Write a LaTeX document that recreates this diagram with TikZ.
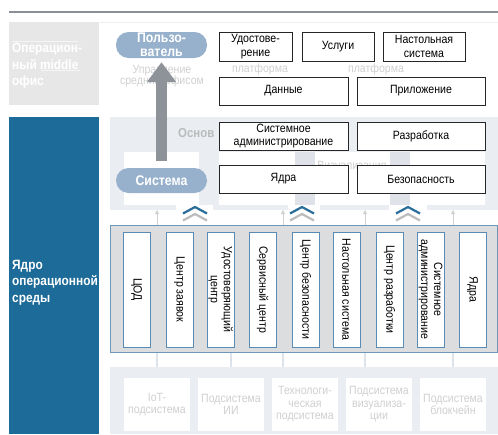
\documentclass[tikz,border=0pt]{standalone}
\usepackage{fontspec}
\setmainfont{Liberation Sans}[FakeStretch=0.88]
\usetikzlibrary{arrows.meta}
\definecolor{pillc}{HTML}{97B1CC}
\definecolor{blueL}{HTML}{1D6B98}
\definecolor{grayP}{HTML}{E7E7E7}
\definecolor{regL}{HTML}{EAEEF3}
\definecolor{regD}{HTML}{DFE3E9}
\definecolor{bandF}{HTML}{DCDDDF}
\definecolor{bandB}{HTML}{6E97BC}
\definecolor{boxB}{HTML}{5A8BB6}
\definecolor{arrowG}{HTML}{8E9299}
\definecolor{chevB}{HTML}{2A6E9B}
\definecolor{chevG}{HTML}{BCBCBC}
\definecolor{ghost}{HTML}{D0D0D0}
\definecolor{sepc}{HTML}{DDE3EA}
\definecolor{topline}{HTML}{8B8F95}
\newcommand\fsz[2]{\fontsize{#1}{#2}\selectfont}
\begin{document}
\begin{tikzpicture}[x=1pt,y=-1pt,
  bx/.style={draw=black!85, line width=0.9pt, fill=white, inner sep=0pt, align=center, font=\fsz{12}{13.5}},
  pill/.style={fill=pillc, rounded corners=12.5pt, inner sep=0pt, align=center, text=white, font=\bfseries\fsz{14}{14.5}},
  vbox/.style={draw=boxB, line width=1pt, fill=white, rotate=-90, minimum width=115pt, minimum height=27pt, inner sep=0pt, align=center, font=\fsz{12}{13}},
  ghostbox/.style={fill=white, minimum width=66pt, minimum height=53pt, inner sep=0pt, align=center, text=ghost, font=\fsz{12}{12.5}},
  ghosttxt/.style={inner sep=0pt, align=center, text=ghost, font=\fsz{12}{11.5}},
  chevblue/.style={draw=chevB, line width=2.2pt},
  chevgray/.style={draw=chevG, line width=2.2pt},
  smallarr/.style={draw=ghost, line width=0.8pt, -{Triangle[width=4pt,length=4pt]}},
  sidetxt/.style={inner sep=0pt, align=left, anchor=north west, text=white, font=\bfseries\fsz{13.5}{16.5}},
  bigarrow/.style={draw=arrowG, line width=10.5pt, -{Triangle[width=28pt,length=20pt]}},
  backrect/.style={fill=white, inner sep=0pt}
]
\useasboundingbox (0,0) rectangle (498,434);

% top rule
\draw[topline, line width=2pt] (9,12) -- (498,12);

% upper left panel
\fill[grayP] (9,22) rectangle (99,105);
\draw[white!60!grayP, line width=1pt] (12,41) -- (78,41);
\node[sidetxt] (midoffice) at (12,43) {Операцион-\\ный middle\\офис};
\draw[white!60!grayP, line width=0.8pt] (41,70.5) -- (80,70.5);
\draw[regD!60!white, line width=0.8pt] (100,22) -- (498,22);

% ghost text upper region
\node[ghosttxt] (ghostmid) at (162,76) {Управление\\средним офисом};
\node[ghosttxt] (ghostpl1) at (260,69) {платформа};
\node[ghosttxt] (ghostpl2) at (376,69) {платформа};

% upper boxes
\node[bx, minimum width=73pt, minimum height=29pt] (udost) at (255.5,46.5) {Удостове-\\рение};
\node[bx, minimum width=72pt, minimum height=29pt] (uslugi) at (338,46.5) {Услуги};
\node[bx, minimum width=82pt, minimum height=29pt] (nastol) at (424,46.5) {Настольная\\система};
\node[bx, minimum width=129pt, minimum height=28pt] (dannye) at (283.5,91) {Данные};
\node[bx, minimum width=128pt, minimum height=28pt] (prilozh) at (421,91) {Приложение};

% left blue panel
\fill[blueL] (9,117) rectangle (99,434);
\node[sidetxt] (core) at (12,260) {Ядро\\операционной\\среды};

% middle region
\fill[regL] (110,117) rectangle (498,210);
\fill[regD] (295,152) rectangle (315,207);
\fill[regD] (390,152) rectangle (410,207);
\fill[white] (124,152) rectangle (199,205);
\fill[white] (219,152) rectangle (295,205);
\fill[white] (315,152) rectangle (390,205);
\fill[white] (410,152) rectangle (485,205);
\node[inner sep=0pt, anchor=west, text=ghost!90!black, font=\bfseries\fsz{13}{13}] (osnov) at (178,133.5) {Основ};
\node[ghosttxt] (ghostviz) at (352,167) {Визуализация};

\node[bx, minimum width=129pt, minimum height=28pt] (sysadm) at (283.5,136) {Системное\\администрирование};
\node[bx, minimum width=128pt, minimum height=28pt] (razrab) at (421,136) {Разработка};
\node[bx, minimum width=129pt, minimum height=28pt] (yadra) at (283.5,179) {Ядра};
\node[bx, minimum width=128pt, minimum height=28pt] (bezop) at (421,179) {Безопасность};

% pills and arrow
\node[pill, minimum width=91pt, minimum height=26pt] (polz) at (161.5,45) {Пользо-\\ватель};
\node[pill, minimum width=91pt, minimum height=25pt] (sistema) at (161.5,180.5) {Система};
\draw[bigarrow] ([yshift=7pt]sistema.north) -- ([yshift=-4pt]polz.south);

% chevrons
\foreach \c/\l/\r [count=\i] in {195/176/213, 302/288/320, 408/389/427}{
  \fill[white] (\l,205) rectangle (\r,223);
  \draw[chevblue] (\c-12,213.5) -- (\c,207) -- (\c+12,213.5);
  \draw[chevgray] (\c-12,220.5) -- (\c,214) -- (\c+12,220.5);
}
% small arrows
\foreach \x in {157,283,365,453}{
  \coordinate (sa\x) at (\x,225);
  \coordinate (sb\x) at (\x,210);
  \draw[smallarr] (sa\x) -- (sb\x);
}

% core band
\draw[fill=bandF, draw=bandB, line width=1pt] (110,225) rectangle (497,352);
\node[vbox] (v1) at (136.5,289.5) {ЦОД};
\node[vbox] (v2) at (179.5,289.5) {Центр заявок};
\node[vbox] (v3) at (220.5,289.5) {Удостоверяющий\\центр};
\node[vbox] (v4) at (262.5,289.5) {Сервисный центр};
\node[vbox] (v5) at (305.5,289.5) {Центр безопасности};
\node[vbox] (v6) at (346.5,289.5) {Настольная система};
\node[vbox] (v7) at (389.5,289.5) {Центр разработки};
\node[vbox] (v8) at (430.5,289.5) {Системное\\администрирование};
\node[vbox] (v9) at (472.5,289.5) {Ядра};

% separators below band
\foreach \x in {157,231,283,365,453}{
  \draw[sepc, line width=1.5pt] (\x,353) -- (\x,367);
}

% bottom region
\fill[regL] (110,367) rectangle (498,434);
\node[ghostbox] (b1) at (157,404.5) {IoT-\\подсистема};
\node[ghostbox] (b2) at (231,404.5) {Подсистема\\ИИ};
\node[ghostbox] (b3) at (305,404.5) {Технологи-\\ческая\\подсистема};
\node[ghostbox] (b4) at (379,404.5) {Подсистема\\визуализа-\\ции};
\node[ghostbox] (b5) at (453,404.5) {Подсистема\\блокчейн};
\end{tikzpicture}
\end{document}
